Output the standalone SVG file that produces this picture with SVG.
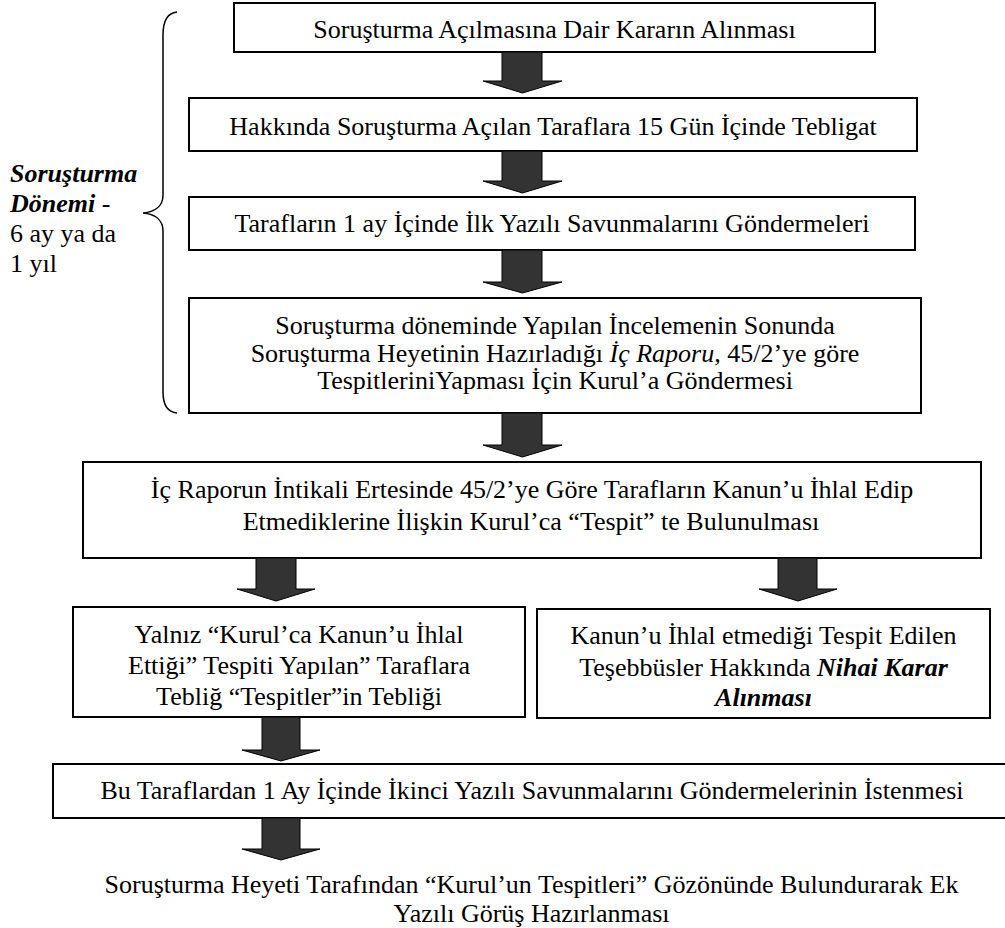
<svg xmlns="http://www.w3.org/2000/svg" width="1005" height="928" viewBox="0 0 1005 928">
<defs>
<style>
.box{fill:#fff;stroke:#000;stroke-width:2}
.t{font-size:26px;fill:#000}
.c{text-anchor:middle}
.arr{fill:#333;stroke:#000;stroke-width:1;stroke-linejoin:miter}
.brace{fill:none;stroke:#000;stroke-width:1.5}
</style>
</defs>
<rect width="1005" height="928" fill="#fff"/>

<g id="n1">
<rect class="box" x="234" y="3" width="641" height="49"/>
<text class="t c" font-family="Liberation Serif" x="554.5" y="38">Soruşturma Açılmasına Dair Kararın Alınması</text>
</g>
<g id="n2">
<rect class="box" x="189" y="98" width="728" height="53"/>
<text class="t c" font-family="Liberation Serif" x="553" y="135">Hakkında Soruşturma Açılan Taraflara 15 Gün İçinde Tebligat</text>
</g>
<g id="n3">
<rect class="box" x="189" y="197" width="726" height="53"/>
<text class="t c" font-family="Liberation Serif" x="552" y="232">Tarafların 1 ay İçinde İlk Yazılı Savunmalarını Göndermeleri</text>
</g>
<g id="n5">
<rect class="box" x="83" y="462" width="898" height="96"/>
<text class="t c" font-family="Liberation Serif" x="532" y="498">İç Raporun İntikali Ertesinde 45/2’ye Göre Tarafların Kanun’u İhlal Edip</text>
<text class="t c" font-family="Liberation Serif" x="531" y="530">Etmediklerine İlişkin Kurul’ca “Tespit” te Bulunulması</text>
</g>
<g id="n6">
<rect class="box" x="73" y="607" width="452" height="110"/>
<text class="t c" font-family="Liberation Serif" x="299" y="643">Yalnız “Kurul’ca Kanun’u İhlal</text>
<text class="t c" font-family="Liberation Serif" x="299" y="674">Ettiği” Tespiti Yapılan” Taraflara</text>
<text class="t c" font-family="Liberation Serif" x="299" y="705">Tebliğ “Tespitler”in Tebliği</text>
</g>
<g id="n8">
<rect class="box" x="53" y="764" width="960" height="54"/>
<text class="t c" font-family="Liberation Serif" x="532" y="799">Bu Taraflardan 1 Ay İçinde İkinci Yazılı Savunmalarını Göndermelerinin İstenmesi</text>
</g>
<g id="n9">
<text class="t c" font-family="Liberation Serif" x="531.5" y="893">Soruşturma Heyeti Tarafından “Kurul’un Tespitleri” Gözönünde Bulundurarak Ek</text>
<text class="t c" font-family="Liberation Serif" x="531.5" y="922">Yazılı Görüş Hazırlanması</text>
</g>
<g id="n4">
<rect class="box" x="189" y="298" width="732" height="115"/>
<text class="t c" font-family="Liberation Serif" x="555" y="334">Soruşturma döneminde Yapılan İncelemenin Sonunda</text>
<text class="t c" font-family="Liberation Serif" x="555" y="362">Soruşturma Heyetinin Hazırladığı <tspan font-style="italic">İç Raporu,</tspan> 45/2’ye göre</text>
<text class="t c" font-family="Liberation Serif" x="555" y="389">TespitleriniYapması İçin Kurul’a Göndermesi</text>
</g>
<g id="n7">
<rect class="box" x="537" y="609" width="453" height="109"/>
<text class="t c" font-family="Liberation Serif" x="763.5" y="644">Kanun’u İhlal etmediği Tespit Edilen</text>
<text class="t c" font-family="Liberation Serif" x="763.5" y="676">Teşebbüsler Hakkında <tspan font-weight="bold" font-style="italic">Nihai Karar</tspan></text>
<text class="t c" font-family="Liberation Serif" font-weight="bold" font-style="italic" x="763.5" y="706">Alınması</text>
</g>

<g id="period">
<path class="brace" d="M177,12 C167,13 163,22 163,35 L163,195 C163,206 155,212 143,213 C155,214 163,220 163,231 L163,392 C163,404 167,412 177,413"/>
<text class="t" font-family="Liberation Serif" font-weight="bold" font-style="italic" x="10" y="182">Soruşturma</text>
<text class="t" font-family="Liberation Serif" x="10" y="212"><tspan font-weight="bold" font-style="italic">Dönemi</tspan> -</text>
<text class="t" font-family="Liberation Serif" x="10" y="242">6 ay ya da</text>
<text class="t" font-family="Liberation Serif" x="10" y="272">1 yıl</text>
</g>

<g id="connectors">
<path class="arr" d="M502,52 L542,52 L542,81 L562,81 L522.5,93 L483,81 L502,81 Z"/>
<path class="arr" d="M502,151 L542,151 L542,181 L562,181 L522.5,193 L483,181 L502,181 Z"/>
<path class="arr" d="M502,250 L542,250 L542,282 L562,282 L522.5,293 L483,282 L502,282 Z"/>
<path class="arr" d="M502,413 L542,413 L542,445 L562,445 L522.5,457 L483,445 L502,445 Z"/>
<path class="arr" d="M256,558 L296,558 L296,589 L315,589 L276,601 L237,589 L256,589 Z"/>
<path class="arr" d="M778,558 L817,558 L817,589 L837,589 L798,601 L759,589 L778,589 Z"/>
<path class="arr" d="M262,717 L300,717 L300,750 L320,750 L281,761 L242,750 L262,750 Z"/>
<path class="arr" d="M262,818 L300,818 L300,849 L320,849 L281,860 L242,849 L262,849 Z"/>
</g>
</svg>
